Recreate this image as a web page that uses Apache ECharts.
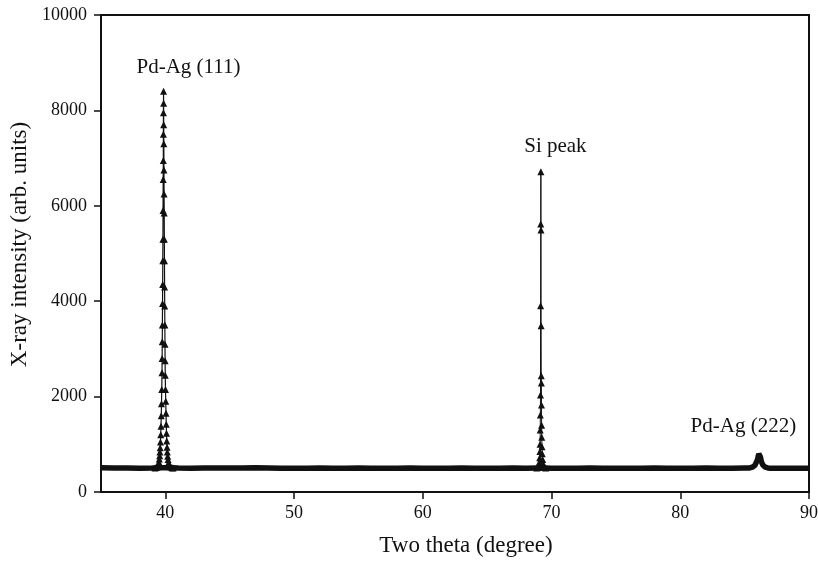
<!DOCTYPE html>
<html>
<head>
<meta charset="utf-8">
<script src="https://cdn.jsdelivr.net/npm/echarts@6/dist/echarts.min.js"></script>
<style>
  html, body { margin: 0; padding: 0; background: #fff; }
  #chart { width: 818px; height: 561px; }
</style>
</head>
<body>
<div id="chart"></div>
<script>
const xTicks = [40, 50, 60, 70, 80, 90];
const yTicks = [0, 2000, 4000, 6000, 8000, 10000];

// background scan, read coarsely (includes the small Pd-Ag (222) hump)
const baseline = [
  [35, 510], [36, 505], [37, 505], [38, 500], [39, 505], [39.3, 510],
  [40.5, 510], [41, 505], [42, 500], [43, 505], [44, 505], [45, 505],
  [46, 505], [47, 510], [48, 505], [49, 500], [50, 500], [51, 500],
  [52, 505], [53, 500], [54, 500], [55, 505], [56, 500], [57, 500],
  [58, 500], [59, 505], [60, 500], [61, 500], [62, 500], [63, 505],
  [64, 500], [65, 500], [66, 500], [67, 505], [68, 500], [68.9, 505],
  [69.5, 505], [70, 500], [71, 500], [72, 500], [73, 505], [74, 500],
  [75, 500], [76, 500], [77, 500], [78, 505], [79, 500], [80, 500],
  [81, 500], [82, 505], [83, 500], [84, 500], [85, 505], [85.4, 505],
  [85.6, 520], [85.8, 560], [85.9, 600], [86.0, 680], [86.06, 750],
  [86.1, 800], [86.14, 830], [86.18, 800], [86.22, 740], [86.3, 640],
  [86.4, 570], [86.6, 520], [86.8, 505], [87, 500], [88, 500],
  [89, 500], [90, 500]
];

// Pd-Ag (111) reflection
const peak111 = [
  [39.20, 505], [39.28, 512], [39.35, 525], [39.41, 550], [39.46, 585],
  [39.50, 630], [39.53, 690], [39.56, 760], [39.58, 840], [39.60, 930],
  [39.62, 1050], [39.64, 1200], [39.66, 1380], [39.68, 1600], [39.70, 1850],
  [39.72, 2150], [39.74, 2500], [39.75, 2800], [39.76, 3150], [39.77, 3500],
  [39.78, 3950], [39.79, 4350], [39.80, 4850], [39.81, 5300], [39.82, 5900],
  [39.83, 6550], [39.84, 6950], [39.845, 7500], [39.85, 7950], [39.86, 8400],
  [39.865, 8150], [39.87, 7700], [39.88, 7300], [39.89, 6750], [39.90, 6250],
  [39.91, 5850], [39.92, 5300], [39.93, 4850], [39.94, 4300], [39.95, 3900],
  [39.96, 3500], [39.97, 3100], [39.98, 2750], [39.99, 2450], [40.01, 2150],
  [40.03, 1900], [40.05, 1650], [40.07, 1420], [40.09, 1230], [40.11, 1070],
  [40.13, 940], [40.15, 840], [40.18, 750], [40.21, 680], [40.25, 620],
  [40.30, 575], [40.36, 545], [40.43, 525], [40.52, 510], [40.60, 505]
];

// Si substrate peak
const peakSi = [
  [68.85, 505], [68.93, 515], [68.99, 535], [69.03, 570], [69.06, 630],
  [69.08, 720], [69.10, 850], [69.11, 1000], [69.12, 1300], [69.13, 1614],
  [69.14, 2034], [69.15, 3906], [69.16, 5618], [69.17, 6715], [69.18, 5493],
  [69.19, 3487], [69.20, 2439], [69.21, 2285], [69.22, 1824], [69.23, 1400],
  [69.24, 1150], [69.26, 950], [69.28, 800], [69.31, 680], [69.35, 590],
  [69.40, 540], [69.46, 515], [69.55, 505]
];

const annotations = [
  [41.8, 8890, 'Pd-Ag (111)'],
  [70.3, 7250, 'Si peak'],
  [84.9, 1380, 'Pd-Ag (222)']
];

const font = 'Liberation Serif';
const ink = '#111';

const chart = echarts.init(document.getElementById('chart'), null, { renderer: 'canvas' });
chart.setOption({
  animation: false,
  grid: {
    left: 101, right: 9, top: 15, bottom: 69,
    outerBoundsMode: 'none',
    show: true, borderColor: ink, borderWidth: 2, backgroundColor: 'transparent'
  },
  xAxis: {
    type: 'value',
    min: 35,
    max: 90,
    name: 'Two theta (degree)',
    nameLocation: 'middle',
    nameGap: 42,
    nameTextStyle: { fontFamily: font, fontSize: 23, color: ink, padding: [0, 0, 0, 22] },
    axisLine: { show: true, onZero: false, lineStyle: { color: ink, width: 2 } },
    axisTick: { show: true, customValues: xTicks, length: 7, inside: false, lineStyle: { color: ink, width: 1.5 } },
    axisLabel: { customValues: xTicks, margin: 12, fontFamily: font, fontSize: 18, color: ink },
    splitLine: { show: false }
  },
  yAxis: {
    type: 'value',
    min: 0,
    max: 10000,
    interval: 2000,
    name: 'X-ray intensity (arb. units)',
    nameLocation: 'middle',
    nameGap: 67,
    nameRotate: 90,
    nameTextStyle: { fontFamily: font, fontSize: 23, color: ink, padding: [0, 0, 0, 18] },
    axisLine: { show: true, lineStyle: { color: ink, width: 2 } },
    axisTick: { show: true, customValues: yTicks, length: 7, inside: false, lineStyle: { color: ink, width: 1.5 } },
    axisLabel: {
      customValues: yTicks, margin: 14, fontFamily: font, fontSize: 18, color: ink,
      formatter: (v) => String(v)
    },
    splitLine: { show: false }
  },
  series: [
    {
      type: 'line',
      data: baseline,
      showSymbol: false,
      lineStyle: { color: ink, width: 5.5 },
      z: 2
    },
    {
      type: 'line',
      data: peak111,
      symbol: 'triangle',
      symbolSize: 7,
      showAllSymbol: true,
      lineStyle: { color: ink, width: 1.2 },
      itemStyle: { color: ink },
      z: 3
    },
    {
      type: 'line',
      data: peakSi,
      symbol: 'triangle',
      symbolSize: 7,
      showAllSymbol: true,
      lineStyle: { color: ink, width: 1 },
      itemStyle: { color: ink },
      z: 3
    },
    {
      type: 'scatter',
      data: annotations,
      symbolSize: 0,
      silent: true,
      itemStyle: { color: ink, opacity: 1 },
      label: {
        show: true,
        position: 'inside',
        formatter: (p) => p.data[2],
        fontFamily: font,
        fontSize: 21,
        color: ink,
        opacity: 1,
        textBorderWidth: 0
      },
      z: 4
    }
  ]
});
</script>
</body>
</html>
